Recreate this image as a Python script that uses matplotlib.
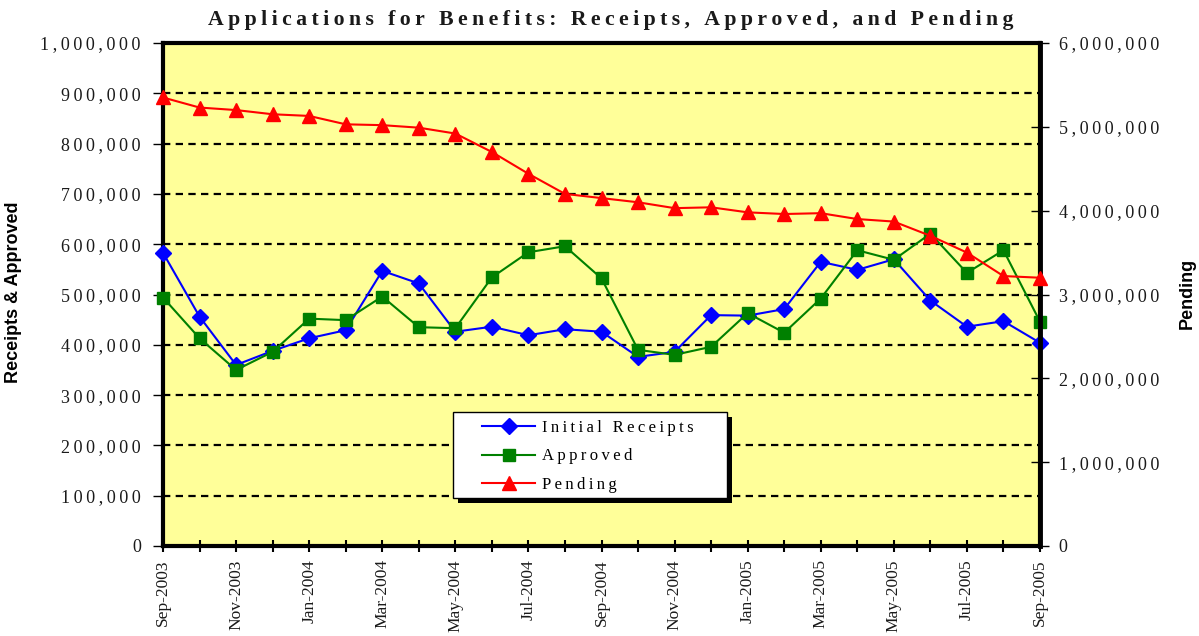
import matplotlib
matplotlib.use("Agg")
import matplotlib.pyplot as plt
from matplotlib.patches import Rectangle
from matplotlib.ticker import FuncFormatter, MultipleLocator

months = [
    "Sep-2003", "Oct-2003", "Nov-2003", "Dec-2003", "Jan-2004", "Feb-2004",
    "Mar-2004", "Apr-2004", "May-2004", "Jun-2004", "Jul-2004", "Aug-2004",
    "Sep-2004", "Oct-2004", "Nov-2004", "Dec-2004", "Jan-2005", "Feb-2005",
    "Mar-2005", "Apr-2005", "May-2005", "Jun-2005", "Jul-2005", "Aug-2005",
    "Sep-2005",
]
initial_receipts = [
    583000, 456000, 360000, 388000, 413000, 429000, 547000, 522000, 426000,
    436000, 419000, 431000, 426000, 376000, 386000, 459000, 458000, 471000,
    565000, 549000, 570000, 488000, 436000, 447000, 404000,
]
approved = [
    494000, 413000, 350000, 386000, 452000, 449000, 496000, 435000, 433000,
    534000, 584000, 596000, 532000, 390000, 380000, 396000, 463000, 424000,
    492000, 588000, 569000, 621000, 543000, 588000, 446000,
]
pending = [
    5350000, 5230000, 5200000, 5150000, 5130000, 5030000, 5020000, 4990000,
    4920000, 4700000, 4440000, 4200000, 4150000, 4100000, 4030000, 4040000,
    3980000, 3960000, 3970000, 3900000, 3870000, 3700000, 3500000, 3220000,
    3200000,
]

SERIF = ["Liberation Serif", "DejaVu Serif"]
SANS = ["Liberation Sans", "DejaVu Sans"]
THIN = "\u2009"
TEXT_COLOR = "#1a1a1a"


def spaced(text):
    # the original chart draws its labels with wide letter spacing
    return THIN.join(text)


def money_fmt(v, _pos):
    return spaced(f"{int(round(v)):,}")


fig = plt.figure(figsize=(11.99, 6.36), dpi=100)
ax = fig.add_axes([163 / 1199, 90 / 636, 877 / 1199, 503 / 636])
ax.set_facecolor("#FFFF99")
ax2 = ax.twinx()

x = list(range(len(months)))
l1, = ax.plot(x, initial_receipts, color="#0000FF", lw=1.5, marker="D",
              ms=8.5, clip_on=False, zorder=3)
l2, = ax.plot(x, approved, color="#008000", lw=1.5, marker="s",
              ms=9, clip_on=False, zorder=3)
l3, = ax2.plot(x, pending, color="#FF0000", lw=1.5, marker="^",
               ms=10, clip_on=False, zorder=3)

ax.set_xlim(0, len(months) - 1)
ax.set_ylim(0, 1000000)
ax2.set_ylim(0, 6000000)

ax.yaxis.set_major_locator(MultipleLocator(100000))
ax.yaxis.set_major_formatter(FuncFormatter(money_fmt))
ax2.yaxis.set_major_locator(MultipleLocator(1000000))
ax2.yaxis.set_major_formatter(FuncFormatter(money_fmt))

ax.set_xticks(x)
ax.set_xticklabels([m if i % 2 == 0 else "" for i, m in enumerate(months)],
                   rotation=90, family=SERIF, fontsize=12.5, color=TEXT_COLOR)

ax.yaxis.grid(True, color="black", lw=1.6, linestyle=(0, (3.3, 2.4)))

ax.tick_params(axis="y", direction="out", length=7, width=1, pad=9,
               labelsize=13, labelcolor=TEXT_COLOR)
ax.tick_params(axis="x", direction="inout", length=9, width=1.5, pad=5)
ax2.tick_params(axis="y", direction="inout", length=13, width=1, pad=7,
                labelsize=13, labelcolor=TEXT_COLOR)
for lab in ax.get_yticklabels() + ax2.get_yticklabels():
    lab.set_family(SERIF)

for side in ["left", "right", "top", "bottom"]:
    ax.spines[side].set_linewidth(3)
    ax2.spines[side].set_visible(False)
ax2.spines["right"].set_visible(True)
ax2.spines["right"].set_linewidth(3.5)

# legend frame with a solid drop shadow, drawn by hand
lx, ly, lw, lh = 0.3307, 0.0954, 0.3124, 0.171
ax2.add_patch(Rectangle((lx + 0.0057, ly - 0.0099), lw, lh, transform=ax2.transAxes,
                        facecolor="black", edgecolor="none", zorder=4, clip_on=False))
ax2.add_patch(Rectangle((lx, ly), lw, lh, transform=ax2.transAxes,
                        facecolor="white", edgecolor="black", lw=1, zorder=4.5,
                        clip_on=False))
leg = ax2.legend([l1, l2, l3],
                 [spaced("Initial Receipts"), spaced("Approved"), spaced("Pending")],
                 loc="upper left", bbox_to_anchor=(0.3637, 0.2505),
                 frameon=False, borderpad=0, borderaxespad=0, numpoints=1,
                 handlelength=3.2, handletextpad=0.4, labelspacing=0.75,
                 prop={"family": SERIF, "size": 12})
leg.set_zorder(6)

fig.text(0.509, 0.969,
         spaced("Applications for Benefits: Receipts, Approved, and Pending"),
         ha="center", va="center", family=SERIF, fontweight="bold",
         fontsize=15.7, color=TEXT_COLOR)
fig.text(0.0113, 0.54, "Receipts & Approved", rotation=90, ha="center",
         va="center", family=SANS, fontweight="bold", fontsize=13)
fig.text(0.990, 0.538, "Pending", rotation=90, ha="center", va="center",
         family=SANS, fontweight="bold", fontsize=13)

fig.savefig("out.png", dpi=100)
